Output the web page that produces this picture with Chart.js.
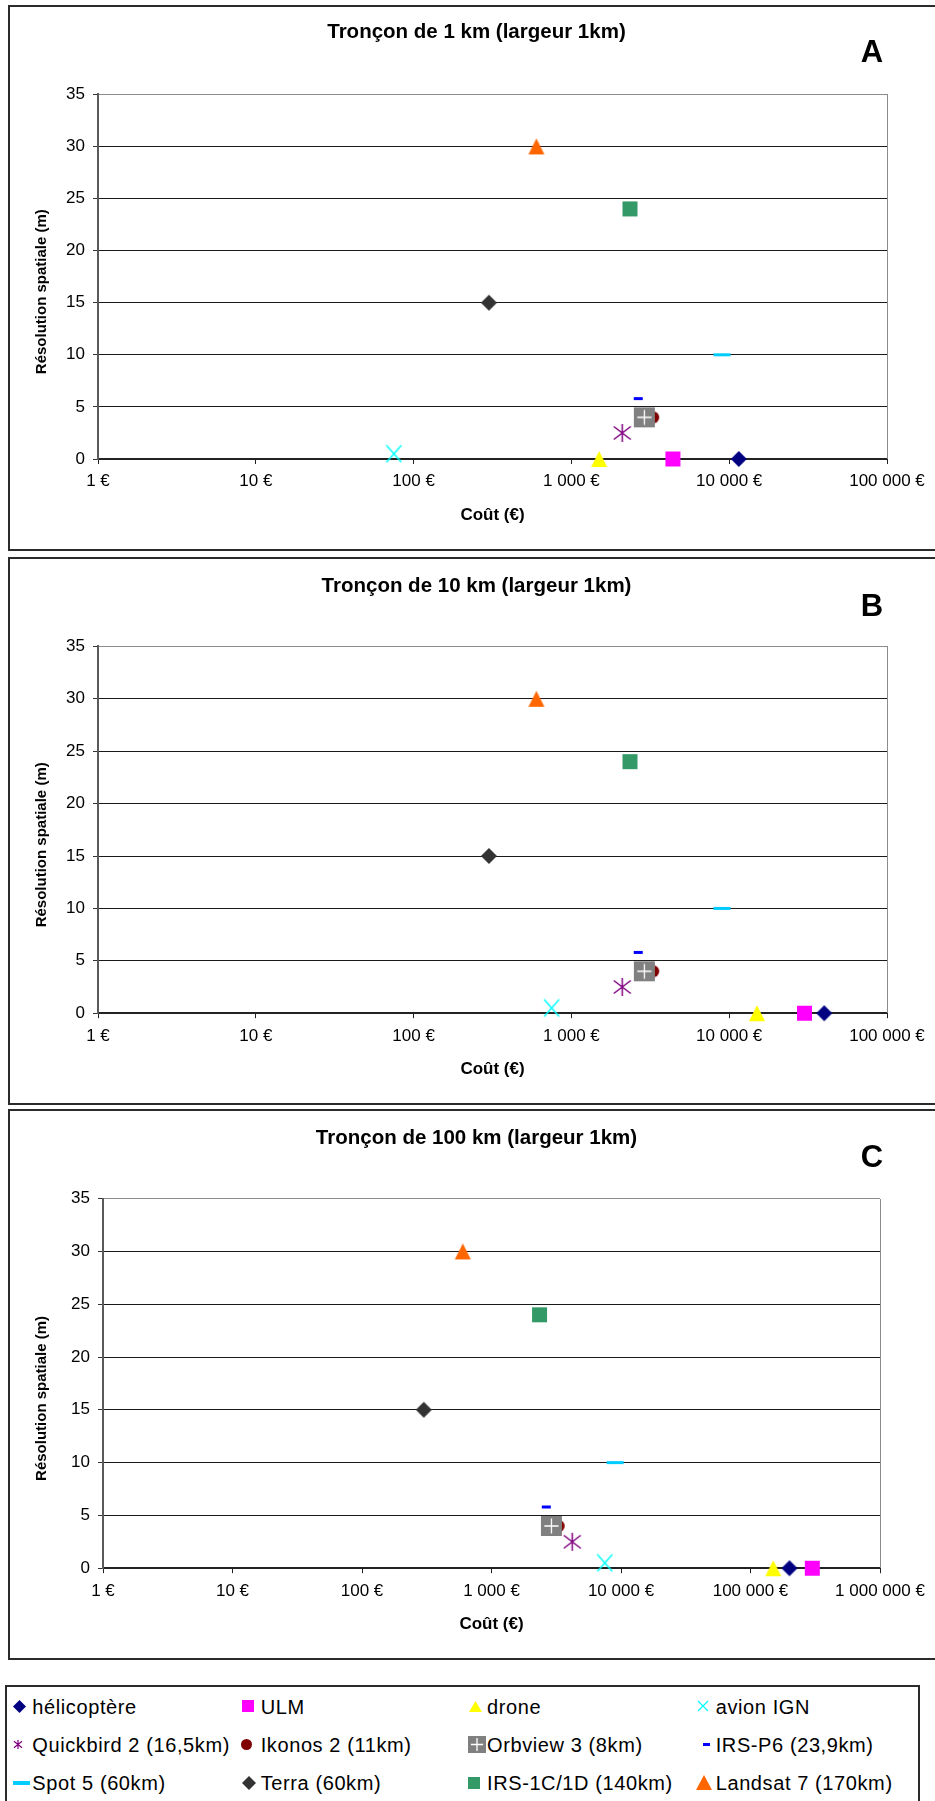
<!DOCTYPE html>
<html><head><meta charset="utf-8">
<script src="https://cdn.jsdelivr.net/npm/chart.js@4.4.1/dist/chart.umd.min.js"></script>
<style>
html,body{margin:0;padding:0;background:#fff;overflow:hidden;}
#page{position:relative;width:935px;height:1801px;overflow:hidden;background:#fff;font-family:'Liberation Sans',Arial,sans-serif;}
.box{position:absolute;border:2px solid #2b2b2b;box-sizing:border-box;}
canvas.chart{position:absolute;left:0;}
.title{position:absolute;left:0;width:953px;text-align:center;font-weight:bold;font-size:20.5px;line-height:24px;white-space:nowrap;color:#000;}
.letter{position:absolute;left:822px;width:100px;text-align:center;font-weight:bold;font-size:31px;line-height:36px;color:#000;}
.lg{position:absolute;font-size:20px;line-height:24px;letter-spacing:0.6px;white-space:nowrap;color:#000;}
.lm{position:absolute;}
</style></head>
<body><div id="page">
<div class="box" style="left:8px;top:5px;width:1000px;height:546px;"></div>
<div class="box" style="left:8px;top:557px;width:1000px;height:548px;"></div>
<div class="box" style="left:8px;top:1109px;width:1000px;height:551px;"></div>
<div class="box" style="left:5px;top:1685px;width:915px;height:200px;"></div>
<canvas class="chart" id="cA" width="935" height="556" style="top:0px"></canvas>
<canvas class="chart" id="cB" width="935" height="556" style="top:552px"></canvas>
<canvas class="chart" id="cC" width="935" height="556" style="top:1104px"></canvas>
<div class="title" style="top:19px">Tronçon de 1 km (largeur 1km)</div>
<div class="title" style="top:573px">Tronçon de 10 km (largeur 1km)</div>
<div class="title" style="top:1125px">Tronçon de 100 km (largeur 1km)</div>
<div class="letter" style="top:34px">A</div>
<div class="letter" style="top:588px">B</div>
<div class="letter" style="top:1139px">C</div>
</div>
<script>
// ---- data ----
const seriesNames = ['hélicoptère','ULM','drone','avion IGN','Quickbird 2 (16,5km)','Ikonos 2 (11km)','Orbview 3 (8km)','IRS-P6 (23,9km)','Spot 5 (60km)','Terra (60km)','IRS-1C/1D (140km)','Landsat 7 (170km)'];
const resolution = [0, 0, 0, 0.5, 2.5, 4, 4, 5.8, 10, 15, 24, 30];
const costA = [11500, 4400, 1500, 75, 2100, 3300, 2900, 2650, 9000, 300, 2350, 600];
const costB = [40000, 30000, 15000, 750, 2100, 3300, 2900, 2650, 9000, 300, 2350, 600];
const costC = [200000, 300000, 150000, 7500, 4200, 3300, 2900, 2650, 9000, 300, 2350, 600];
const xTickValuesAB = [1, 10, 100, 1000, 10000, 100000];
const xTickLabelsAB = ['1 €', '10 €', '100 €', '1 000 €', '10 000 €', '100 000 €'];
const xTickValuesC = [1, 10, 100, 1000, 10000, 100000, 1000000];
const xTickLabelsC = ['1 €', '10 €', '100 €', '1 000 €', '10 000 €', '100 000 €', '1 000 000 €'];
const yTickValues = [0, 5, 10, 15, 20, 25, 30, 35];
const yTickLabels = ['0', '5', '10', '15', '20', '25', '30', '35'];

// ---- styles ----
const markerKinds = ['diamond','square','triangle','x','asterisk','circle','orbview','dash','dash','diamond','square','triangle'];
const markerColors = ['#000080','#FF00FF','#FFFF00','#00FFFF','#800080','#800000','#808080','#0000FF','#00CCFF','#333333','#339966','#FF6600'];
const chartMarkerSizes = [[16,16],[15,15],[16,16],[15,17],[17,18],[12,12],[21,20],[9,3],[17,3],[16,16],[15,15],[16,16]];
const legendMarkerSizes = [[13,13],[12,12],[13,11],[10,10],[8,9],[11,11],[18,17],[7,3],[17,4],[14,14],[12,12],[16,15]];

function marker(kind, color, w, h, lw) {
  const c = document.createElement('canvas');
  c.width = Math.ceil(w) + 2; c.height = Math.ceil(h) + 2;
  const g = c.getContext('2d');
  const cx = c.width / 2, cy = c.height / 2;
  g.fillStyle = color; g.strokeStyle = color; g.lineWidth = lw || 1.5;
  g.beginPath();
  switch (kind) {
    case 'diamond':
      g.moveTo(cx, cy - h/2); g.lineTo(cx + w/2, cy); g.lineTo(cx, cy + h/2); g.lineTo(cx - w/2, cy); g.closePath(); g.fill(); break;
    case 'square':
    case 'dash':
      g.fillRect(cx - w/2, cy - h/2, w, h); break;
    case 'triangle':
      g.moveTo(cx, cy - h/2); g.lineTo(cx + w/2, cy + h/2); g.lineTo(cx - w/2, cy + h/2); g.closePath(); g.fill(); break;
    case 'circle':
      g.arc(cx, cy, w/2, 0, Math.PI * 2); g.fill(); break;
    case 'x':
      g.moveTo(cx - w/2, cy - h/2); g.lineTo(cx + w/2, cy + h/2);
      g.moveTo(cx + w/2, cy - h/2); g.lineTo(cx - w/2, cy + h/2); g.stroke(); break;
    case 'asterisk':
      g.moveTo(cx, cy - h/2); g.lineTo(cx, cy + h/2);
      g.moveTo(cx - w/2, cy - h*0.36); g.lineTo(cx + w/2, cy + h*0.36);
      g.moveTo(cx + w/2, cy - h*0.36); g.lineTo(cx - w/2, cy + h*0.36); g.stroke(); break;
    case 'orbview':
      g.fillRect(cx - w/2, cy - h/2, w, h);
      g.strokeStyle = '#ffffff'; g.lineWidth = 1.3;
      g.beginPath();
      g.moveTo(cx, cy - h*0.38); g.lineTo(cx, cy + h*0.38);
      g.moveTo(cx - w*0.34, cy); g.lineTo(cx + w*0.34, cy); g.stroke(); break;
  }
  return c;
}

const chartMarkers = markerKinds.map((k, i) => marker(k, markerColors[i], chartMarkerSizes[i][0], chartMarkerSizes[i][1], 1.5));

Chart.defaults.font.family = "'Liberation Sans', Arial, sans-serif";
Chart.defaults.color = '#000';

const rightBorder = {
  id: 'rightBorder',
  beforeDatasetsDraw(chart) {
    const {ctx, chartArea: a} = chart;
    ctx.save();
    ctx.strokeStyle = '#8c8c8c'; ctx.lineWidth = 1;
    const x = Math.round(a.right) + 0.5;
    ctx.beginPath(); ctx.moveTo(x, Math.round(a.top)); ctx.lineTo(x, Math.round(a.bottom)); ctx.stroke();
    ctx.restore();
  }
};

// y title shifted slightly below the plot centre, as in the original
const yTitleText = 'Résolution spatiale (m)' + '\u2002\u2002\u2002\u2002';

function buildChart(id, costs, xVals, xLabels, area) {
  const H = 556, W = 935;
  const datasets = seriesNames.map((name, i) => ({
    label: name,
    data: [{x: costs[i], y: resolution[i]}],
    pointStyle: chartMarkers[i],
    pointRadius: 10, pointHoverRadius: 10,
    clip: false, order: -i, showLine: false
  }));
  return new Chart(document.getElementById(id), {
    type: 'scatter',
    data: {datasets},
    options: {
      responsive: false, animation: false, events: [],
      layout: {padding: {left: 0, top: area.top, right: W - area.right, bottom: 0}},
      plugins: {legend: {display: false}, tooltip: {enabled: false}},
      scales: {
        x: {
          type: 'logarithmic', position: 'bottom', min: xVals[0], max: xVals[xVals.length - 1],
          afterBuildTicks: s => { s.ticks = xVals.map(v => ({value: v})); },
          afterFit: s => { s.height = H - area.bottom; },
          ticks: {callback: (v, i) => xLabels[i], font: {size: 17}, padding: 7.5, maxRotation: 0, autoSkip: false, color: '#000'},
          grid: {drawOnChartArea: false, drawTicks: true, tickLength: 5, tickColor: '#222', color: '#222'},
          border: {display: true, color: '#222', width: 2},
          title: {display: true, text: 'Coût (€)', color: '#000', font: {size: 17, weight: 'bold'},
                  padding: {top: 0, bottom: H - area.bottom - 56 - 10.2}}
        },
        y: {
          type: 'linear', min: 0, max: 35,
          afterBuildTicks: s => { s.ticks = yTickValues.map(v => ({value: v})); },
          afterFit: s => { s.width = area.left; },
          ticks: {callback: (v, i) => yTickLabels[i], font: {size: 17}, padding: 8, color: '#000'},
          grid: {color: c => (c.tick && c.tick.value === 35) ? '#8c8c8c' : '#1a1a1a', lineWidth: 1, tickLength: 5, tickColor: '#333'},
          border: {display: true, color: '#5a5a5a', width: 2},
          title: {display: true, text: yTitleText, color: '#000', font: {size: 15, weight: 'bold'},
                  padding: {top: 33, bottom: 0}}
        }
      }
    },
    plugins: [rightBorder]
  });
}

buildChart('cA', costA, xTickValuesAB, xTickLabelsAB, {left: 98, right: 887, top: 94.3, bottom: 459});
buildChart('cB', costB, xTickValuesAB, xTickLabelsAB, {left: 98, right: 887, top: 94.4, bottom: 461.2});
buildChart('cC', costC, xTickValuesC, xTickLabelsC, {left: 103, right: 880, top: 94.6, bottom: 464.2});

// ---- legend (HTML) ----
const page = document.getElementById('page');
const legMarkerX = [[19.3, 247.5, 475.7, 703.3], [17.8, 246.3, 476.7, 706], [21.7, 249, 473.8, 703.8]];
const legTextX = [32.3, 260.7, 487, 715.7];
const legRowCY = [1706.3, 1744.7, 1782.5];
seriesNames.forEach((name, i) => {
  const row = Math.floor(i / 4), col = i % 4;
  const m = marker(markerKinds[i], markerColors[i], legendMarkerSizes[i][0], legendMarkerSizes[i][1], 1.2);
  m.className = 'lm';
  m.style.left = (legMarkerX[row][col] - m.width / 2) + 'px';
  m.style.top = (legRowCY[row] - m.height / 2) + 'px';
  page.appendChild(m);
  const t = document.createElement('div');
  t.className = 'lg';
  t.textContent = name;
  t.style.left = legTextX[col] + 'px';
  t.style.top = (legRowCY[row] - 11.8) + 'px';
  page.appendChild(t);
});
</script>
</body></html>
